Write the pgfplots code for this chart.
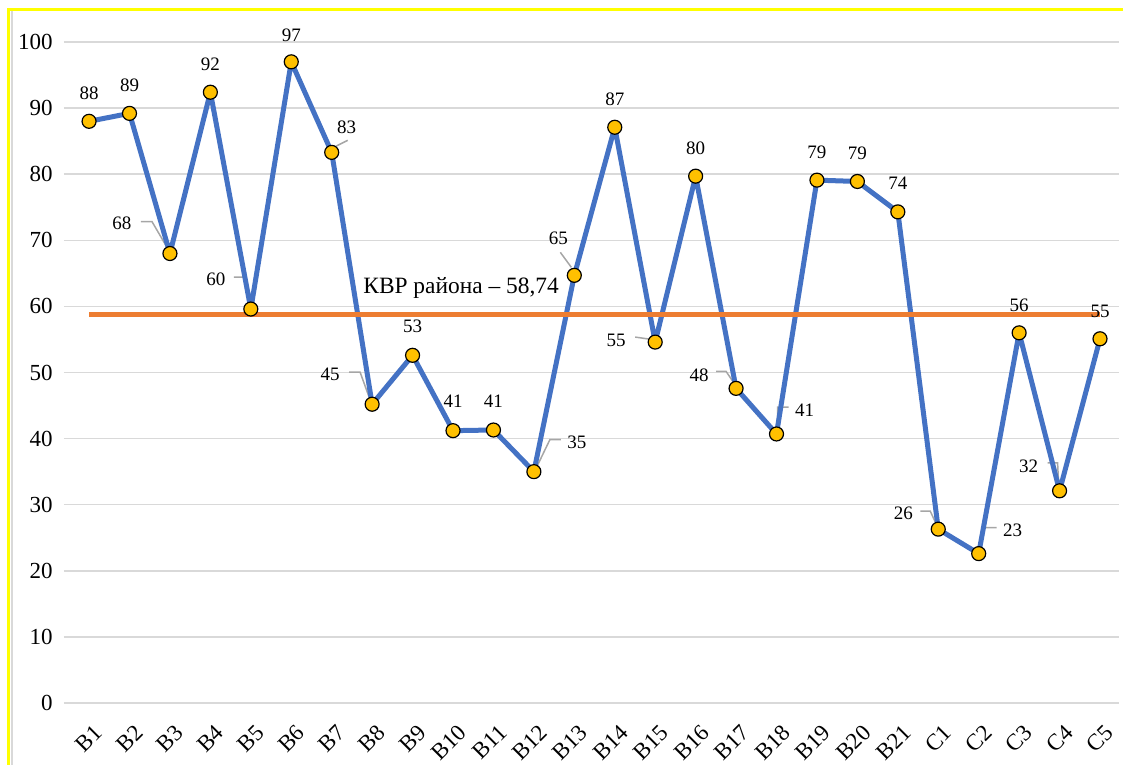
\documentclass[border=0pt]{standalone}
\usepackage{fontspec}
\setmainfont{Liberation Serif}
\usepackage{pgfplots}
\usepackage{pgfplotstable}
\pgfplotsset{compat=1.18}
\definecolor{lblue}{HTML}{4472C4}
\definecolor{lorange}{HTML}{ED7D31}
\definecolor{lgold}{HTML}{FFC000}
\definecolor{lgrid}{HTML}{D9D9D9}
\definecolor{lleader}{HTML}{A6A6A6}
\definecolor{lyellow}{HTML}{FFFF00}

\pgfplotstableread{
x y dx dy
0 88.0 0 14
1 89.2 0 14
2 68.0 -24 15
3 92.4 0 14
4 59.6 -17.5 15
5 97.0 0 13.5
6 83.3 7.5 12.5
7 45.2 -21 15
8 52.6 0 14.5
9 41.2 0 14.5
10 41.3 0 14.5
11 35.0 21.5 14.5
12 64.7 -8 18.5
13 87.1 0 14
14 54.6 -19.5 1
15 79.7 0 14
16 47.6 -18.5 6.5
17 40.7 14 12
18 79.1 0 14
19 78.9 0 14
20 74.3 0 14.5
21 26.3 -17.5 8
22 22.6 17 11.5
23 56.0 0 14
24 32.1 -15.5 12.5
25 55.1 0 13.5
}\datatable

\begin{document}
\begin{tikzpicture}
\useasboundingbox (-32pt,-31pt) rectangle (529.5pt,351.5pt);
\begin{axis}[
  at={(0,0)}, anchor=south west,
  width=527.5pt, height=330.5pt, scale only axis,
  xmin=-0.62, xmax=25.47, ymin=0, ymax=100,
  clip=false,
  axis line style={draw=none},
  major tick length=0pt,
  xtick={0,...,25},
  xticklabels={B1,B2,B3,B4,B5,B6,B7,B8,B9,B10,B11,B12,B13,B14,B15,B16,B17,B18,B19,B20,B21,C1,C2,C3,C4,C5},
  ytick={0,10,...,100},
  ymajorgrids,
  grid style={lgrid, line width=0.75pt},
  tick label style={font=\fontsize{11.5}{13}\selectfont},
  xticklabel style={xshift=2pt, yshift=-10pt, rotate=45, anchor=north east, inner sep=0pt},
  yticklabel style={xshift=-2.2pt},
  /pgf/number format/assume math mode=true,
]
% leader lines
\addplot[lleader, line width=0.75pt, unbounded coords=jump] coordinates {
 (1.283,72.84) (1.555,72.84) (1.901,69.21) (2,nan)
 (3.580,64.44) (3.852,64.44) (3.951,60.66) (4,nan)
 (6.099,84.21) (6.396,85.12) (6,nan)
 (6.431,50.04) (6.703,50.04) (6.926,46.26) (7,nan)
 (11.668,39.84) (11.396,39.84) (11.074,35.76) (11,nan)
 (11.654,68.18) (11.926,65.91) (12,nan)
 (13.505,55.36) (13.852,55.05) (14,nan)
 (15.505,50.17) (15.753,50.17) (15.951,48.36) (16,nan)
 (17.297,44.78) (17.025,44.78) (17.025,42.06) (17,nan)
 (20.555,29.02) (20.802,29.02) (20.975,26.75) (21,nan)
 (22.445,26.53) (22.148,26.53) (22.025,23.36) (22,nan)
 (23.703,36.34) (23.951,36.34) (23.975,33.31)
};
% main series
\addplot[lblue, line width=2.5pt, line join=round, mark=*, mark size=3.5pt,
  mark options={fill=lgold, draw=black, line width=0.6pt}]
  table[x=x, y=y] {\datatable};
% district average
\addplot[lorange, line width=2.5pt] coordinates {(0,58.74) (25,58.74)};
% data labels
\addplot[draw=none, mark=none, point meta=y,
  visualization depends on={\thisrow{dx} \as \ldx},
  visualization depends on={\thisrow{dy} \as \ldy},
  nodes near coords={\pgfmathprintnumber[fixed,precision=0]{\pgfplotspointmeta}},
  every node near coord/.append style={anchor=center, xshift=\ldx*1pt, yshift=\ldy*1pt,
    font=\fontsize{9.5}{11}\selectfont, text=black, inner sep=0pt}]
  table[x=x, y=y] {\datatable};
\node[font=\fontsize{11.7}{13}\selectfont, inner sep=0pt] at (axis cs:9.2,62.8) {КВР района – 58,74};
\end{axis}
\draw[lgrid, line width=1pt] (-26pt,346pt) -- (-26pt,-31pt);
\draw[lyellow, line width=1.5pt] (-27.75pt,-31pt) -- (-27.75pt,346.5pt) -- (529.5pt,346.5pt);
\end{tikzpicture}
\end{document}
